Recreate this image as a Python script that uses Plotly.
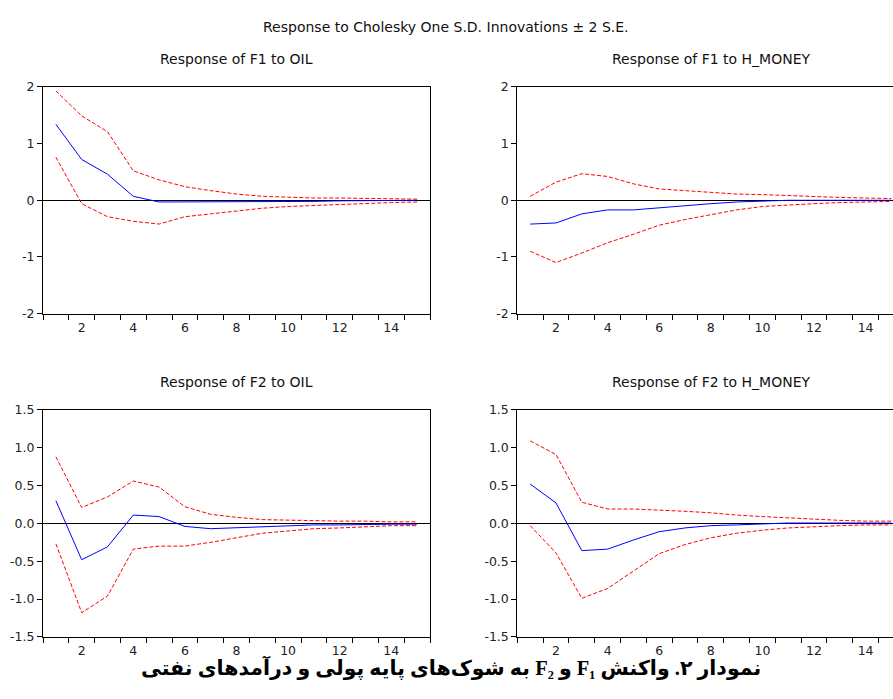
import plotly.graph_objects as go

periods = list(range(1, 16))

# Response of F1 to OIL
f1_oil = [1.34, 0.72, 0.46, 0.07, -0.03, -0.03, -0.03, -0.03, -0.02, -0.02, -0.02, -0.01, -0.01, -0.01, 0.00]
f1_oil_up = [1.93, 1.49, 1.21, 0.52, 0.36, 0.24, 0.17, 0.11, 0.07, 0.05, 0.04, 0.04, 0.03, 0.02, 0.02]
f1_oil_lo = [0.76, -0.06, -0.29, -0.37, -0.42, -0.29, -0.24, -0.19, -0.14, -0.11, -0.09, -0.07, -0.05, -0.04, -0.03]

# Response of F1 to H_MONEY
f1_hm = [-0.42, -0.40, -0.24, -0.17, -0.17, -0.13, -0.09, -0.06, -0.03, -0.01, 0.00, 0.00, 0.00, 0.00, 0.00]
f1_hm_up = [0.07, 0.32, 0.47, 0.42, 0.29, 0.20, 0.17, 0.14, 0.11, 0.10, 0.08, 0.06, 0.05, 0.04, 0.03]
f1_hm_lo = [-0.90, -1.10, -0.93, -0.75, -0.60, -0.44, -0.34, -0.26, -0.17, -0.11, -0.08, -0.06, -0.04, -0.03, -0.02]

# Response of F2 to OIL
f2_oil = [0.30, -0.48, -0.31, 0.11, 0.09, -0.04, -0.07, -0.06, -0.04, -0.03, -0.02, -0.02, -0.01, -0.01, -0.01]
f2_oil_up = [0.88, 0.21, 0.35, 0.56, 0.48, 0.22, 0.12, 0.08, 0.05, 0.04, 0.04, 0.03, 0.03, 0.02, 0.02]
f2_oil_lo = [-0.27, -1.18, -0.96, -0.34, -0.30, -0.30, -0.25, -0.19, -0.13, -0.10, -0.07, -0.06, -0.04, -0.03, -0.03]

# Response of F2 to H_MONEY
f2_hm = [0.52, 0.27, -0.36, -0.34, -0.22, -0.11, -0.06, -0.03, -0.02, -0.005, 0.005, 0.005, 0.005, 0.005, 0.005]
f2_hm_up = [1.09, 0.91, 0.28, 0.19, 0.19, 0.18, 0.16, 0.14, 0.11, 0.09, 0.07, 0.06, 0.04, 0.03, 0.03]
f2_hm_lo = [-0.03, -0.39, -0.99, -0.86, -0.63, -0.40, -0.28, -0.19, -0.13, -0.09, -0.06, -0.04, -0.03, -0.02, -0.02]

panel_titles = ["Response of F1 to OIL", "Response of F1 to H_MONEY",
                "Response of F2 to OIL", "Response of F2 to H_MONEY"]
main_title = "Response to Cholesky One S.D. Innovations ± 2 S.E."
caption = "نمودار ۲. واکنش F₁ و F₂ به شوک‌های پایه پولی و درآمدهای نفتی"

top_ticks = [-2, -1, 0, 1, 2]
bot_ticks = [-1.5, -1.0, -0.5, 0.0, 0.5, 1.0, 1.5]
bot_labels = ["-1.5", "-1.0", "-0.5", "0.0", "0.5", "1.0", "1.5"]
x_ticks = [2, 4, 6, 8, 10, 12, 14]

W, H = 893, 699
FONT = "DejaVu Sans, Liberation Sans, Arial, sans-serif"

panels = [
    dict(mid=f1_oil, up=f1_oil_up, lo=f1_oil_lo, x=(43, 430), y=(80.7, 312.3), full=True,
         yr=[-2, 2], tv=top_ticks, tt=[str(t) for t in top_ticks]),
    dict(mid=f1_hm, up=f1_hm_up, lo=f1_hm_lo, x=(517.3, 893), y=(80.7, 312.3), full=False,
         yr=[-2, 2], tv=top_ticks, tt=[str(t) for t in top_ticks]),
    dict(mid=f2_oil, up=f2_oil_up, lo=f2_oil_lo, x=(43, 430), y=(410.7, 642.7), full=True,
         yr=[-1.5, 1.5], tv=bot_ticks, tt=bot_labels),
    dict(mid=f2_hm, up=f2_hm_up, lo=f2_hm_lo, x=(517.3, 893), y=(410.7, 642.7), full=False,
         yr=[-1.5, 1.5], tv=bot_ticks, tt=bot_labels),
]

fig = go.Figure()
px_per_unit = (430 - 43) / 15.0
layout = {}
annotations = []
for i, p in enumerate(panels):
    n = "" if i == 0 else str(i + 1)
    xa, ya = "x" + n, "y" + n
    for series, color, dash in [(p["lo"], "#ff0000", "4px,2px"), (p["up"], "#ff0000", "4px,2px"),
                                (p["mid"], "#0000ff", "solid")]:
        fig.add_trace(go.Scatter(x=periods, y=series, mode="lines", xaxis=xa, yaxis=ya,
                                 line=dict(color=color, width=1, dash=dash),
                                 showlegend=False, hoverinfo="skip"))
    width_px = p["x"][1] - p["x"][0]
    xmax = 0.5 + width_px / px_per_unit
    layout["xaxis" + n] = dict(
        domain=[p["x"][0] / W, p["x"][1] / W], anchor=ya, range=[0.5, xmax],
        tickvals=x_ticks, ticktext=[str(t) for t in x_ticks], ticks="",
        minor=dict(tick0=0.5, dtick=1, ticks="outside", ticklen=5, tickcolor="#000", tickwidth=1),
        showgrid=False, zeroline=False, showline=True, linecolor="#000", linewidth=1,
        mirror=True, tickfont=dict(family=FONT, size=12.5, color="#222"), fixedrange=True,
        ticklabelstandoff=2,
    )
    layout["yaxis" + n] = dict(
        domain=[1 - p["y"][1] / H, 1 - p["y"][0] / H], anchor=xa, range=p["yr"],
        tickvals=p["tv"], ticktext=p["tt"], ticks="outside", ticklen=5, tickcolor="#000",
        showgrid=False, zeroline=True, zerolinecolor="#000", zerolinewidth=1,
        showline=True, linecolor="#000", linewidth=1, mirror=p["full"],
        tickfont=dict(family=FONT, size=12.5, color="#222"), fixedrange=True,
    )
    cx = (p["x"][0] + (p["x"][0] + 15 * px_per_unit)) / 2
    annotations.append(dict(text=panel_titles[i], x=cx / W, y=1 - (p["y"][0] - 29) / H,
                            xref="paper", yref="paper", showarrow=False,
                            xanchor="center", yanchor="middle",
                            font=dict(family=FONT, size=14, color="#111")))

annotations.append(dict(text=main_title, x=446 / W, y=1 - 19 / H, xref="paper", yref="paper",
                        showarrow=False, xanchor="center", yanchor="middle",
                        font=dict(family=FONT, size=14, color="#111")))
annotations.append(dict(text="<b>\u202b" + caption + "\u202c</b>", x=451 / W, y=1 - 674 / H,
                        xref="paper", yref="paper",
                        showarrow=False, xanchor="center", yanchor="middle",
                        font=dict(family="Liberation Serif, DejaVu Sans, serif", size=20.5, color="#000")))

fig.update_layout(width=W, height=H, margin=dict(l=0, r=0, t=0, b=0),
                  paper_bgcolor="white", plot_bgcolor="white",
                  annotations=annotations, **layout)

fig.write_html("out.html", config={"displayModeBar": False},
               post_script="document.body.style.margin='0';document.body.style.overflow='hidden';")
